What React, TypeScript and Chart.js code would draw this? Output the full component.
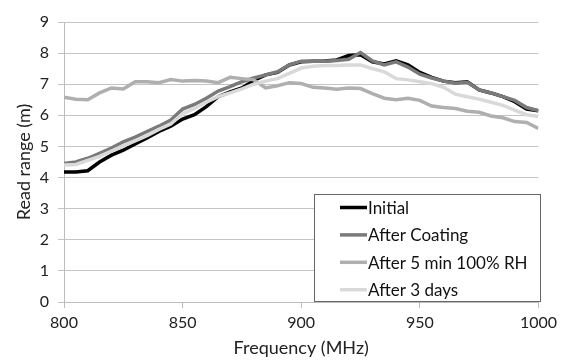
import React, { useEffect, useRef } from "react";
import { Chart, registerables } from "chart.js";

Chart.register(...registerables);

const frequencies = [
  800, 805, 810, 815, 820, 825, 830, 835, 840, 845, 850, 855, 860, 865, 870, 875, 880, 885, 890, 895,
  900, 905, 910, 915, 920, 925, 930, 935, 940, 945, 950, 955, 960, 965, 970, 975, 980, 985, 990, 995, 1000,
];

const initial = [
  4.18, 4.18, 4.22, 4.5, 4.72, 4.88, 5.08, 5.27, 5.48, 5.65, 5.88, 6.02, 6.28, 6.6, 6.75, 6.88, 7.12, 7.3, 7.38, 7.62,
  7.72, 7.74, 7.75, 7.78, 7.92, 7.95, 7.72, 7.65, 7.75, 7.62, 7.38, 7.22, 7.1, 7.05, 7.08, 6.82, 6.72, 6.6, 6.44, 6.2, 6.15,
];

const afterCoating = [
  4.45, 4.5, 4.62, 4.78, 4.95, 5.15, 5.3, 5.48, 5.65, 5.85, 6.2, 6.35, 6.55, 6.78, 6.92, 7.08, 7.2, 7.3, 7.4, 7.62,
  7.74, 7.74, 7.74, 7.76, 7.8, 8.02, 7.75, 7.62, 7.72, 7.55, 7.32, 7.2, 7.1, 7.03, 7.06, 6.82, 6.72, 6.6, 6.48, 6.25, 6.15,
];

const after5minRH = [
  6.58, 6.52, 6.5, 6.72, 6.88, 6.85, 7.08, 7.08, 7.05, 7.15, 7.1, 7.12, 7.1, 7.05, 7.22, 7.18, 7.14, 6.88, 6.95, 7.05,
  7.02, 6.9, 6.88, 6.84, 6.88, 6.86, 6.7, 6.55, 6.5, 6.55, 6.48, 6.3, 6.25, 6.22, 6.13, 6.1, 5.98, 5.92, 5.8, 5.77, 5.58,
];

const after3days = [
  4.4, 4.42, 4.55, 4.68, 4.85, 5.02, 5.18, 5.35, 5.55, 5.72, 6.05, 6.22, 6.42, 6.6, 6.72, 6.85, 7.0, 7.1, 7.18, 7.35,
  7.52, 7.58, 7.6, 7.6, 7.62, 7.62, 7.5, 7.4, 7.18, 7.14, 7.08, 7.02, 6.9, 6.68, 6.6, 6.52, 6.42, 6.32, 6.17, 6.02, 5.96,
];

const seriesLabels = ["Initial", "After Coating", "After 5 min 100% RH", "After 3 days"];
const seriesColors = ["#000000", "#7a7a7a", "#afafaf", "#d9d9d9"];

const FONT = "Lato, 'Open Sans', sans-serif";

const boxLegend = {
  id: "boxLegend",
  afterDraw(chart: any) {
    const { ctx } = chart;
    const x0 = 314, y0 = 194, x1 = 541, y1 = 302;
    ctx.save();
    ctx.fillStyle = "#ffffff";
    ctx.fillRect(x0, y0, x1 - x0, y1 - y0);
    ctx.strokeStyle = "#666666";
    ctx.lineWidth = 1;
    ctx.strokeRect(x0 + 0.5, y0 + 0.5, x1 - x0 - 1, y1 - y0 - 1);
    ctx.font = `17px ${FONT}`;
    ctx.textBaseline = "middle";
    ctx.textAlign = "left";
    chart.data.datasets.forEach((ds: any, i: number) => {
      const y = 207.5 + i * 27.4;
      ctx.strokeStyle = ds.borderColor;
      ctx.lineWidth = 3.5;
      ctx.beginPath();
      ctx.moveTo(340, y);
      ctx.lineTo(367, y);
      ctx.stroke();
      ctx.fillStyle = "#111111";
      ctx.fillText(ds.label, 368, y + 1);
    });
    ctx.restore();
  },
};

export default function App() {
  const ref = useRef<HTMLCanvasElement | null>(null);

  useEffect(() => {
    if (!ref.current) return;
    const seriesData = [initial, afterCoating, after5minRH, after3days];
    const chart = new Chart(ref.current, {
      type: "line",
      data: {
        datasets: seriesData.map((arr, i) => ({
          label: seriesLabels[i],
          data: arr.map((v, j) => ({ x: frequencies[j], y: v })),
          borderColor: seriesColors[i],
          backgroundColor: seriesColors[i],
          borderWidth: 3.5,
          pointRadius: 0,
          tension: 0,
          order: 4 - i,
        })),
      },
      options: {
        responsive: false,
        animation: false,
        layout: { padding: { top: 22, right: 21, left: 0, bottom: 0 } },
        plugins: { legend: { display: false }, tooltip: { enabled: false } },
        scales: {
          x: {
            type: "linear",
            min: 800,
            max: 1000,
            ticks: {
              stepSize: 50,
              color: "#222",
              font: { family: FONT, size: 16 },
              padding: 5,
              maxRotation: 0,
              callback: (v: any) => String(v),
            },
            grid: { drawOnChartArea: false, drawTicks: true, tickLength: 6, color: "#bdbdbd" },
            border: { color: "#bdbdbd" },
            title: { display: true, text: "Frequency (MHz)", color: "#222", font: { family: FONT, size: 18 }, padding: { top: 0, bottom: 1 } },
            afterFit: (s: any) => { s.height = 58; },
          },
          y: {
            min: 0,
            max: 9,
            ticks: { stepSize: 1, color: "#222", font: { family: FONT, size: 16 }, padding: 9 },
            grid: { color: "#c4c4c4", tickLength: 6 },
            border: { color: "#bdbdbd" },
            title: { display: true, text: "Read range (m)", color: "#222", font: { family: FONT, size: 18 }, padding: { top: 13, bottom: 0 } },
            afterFit: (s: any) => { s.width = 64; },
          },
        },
      },
      plugins: [boxLegend],
    });
    return () => chart.destroy();
  }, []);

  return (
    <div style={{ position: "fixed", left: 0, top: 0, width: 562, height: 360, background: "#fff" }}>
      <canvas ref={ref} width={562} height={360} />
    </div>
  );
}
